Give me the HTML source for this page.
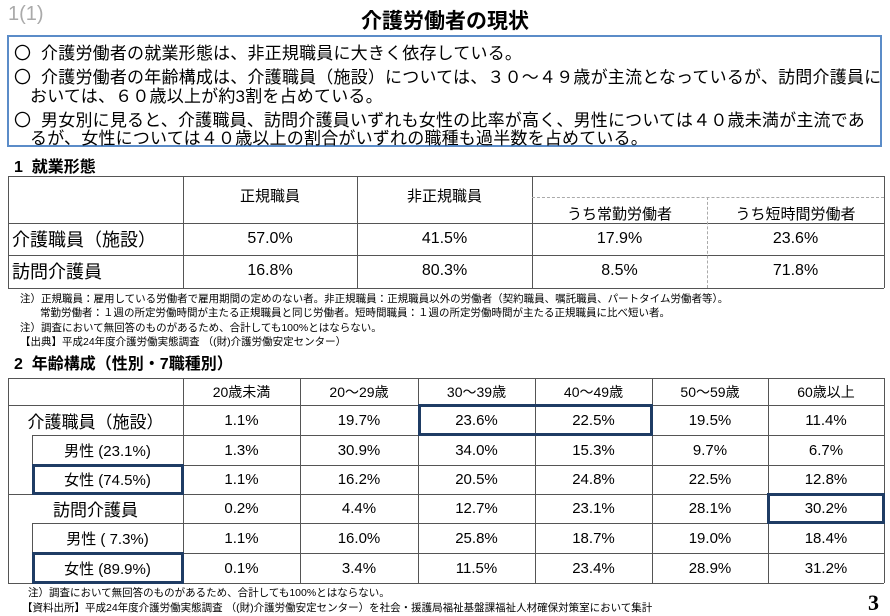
<!DOCTYPE html>
<html><head><meta charset="utf-8"><style>
body{margin:0;width:890px;height:616px;background:#fff;position:relative;overflow:hidden;font-family:"Liberation Sans","Noto Sans CJK JP",sans-serif;color:#000}
.a{position:absolute;white-space:nowrap}
.c{position:absolute;display:flex;align-items:center;justify-content:center;font-size:15px;box-sizing:border-box}
.h{position:absolute;background:#555;height:1px}
.v{position:absolute;background:#555;width:1px}
.bx{position:absolute;border:3px solid #1f3c64;box-sizing:border-box}
.note{font-size:10.5px}
.s{font-size:17px;letter-spacing:0.2px}
</style></head><body>
<div class="a" style="left:8px;top:3px;font-size:20px;color:#aaa">1(1)</div>
<div class="a" style="left:0;width:890px;text-align:center;top:5px;font-size:21px;font-weight:bold">介護労働者の現状</div>
<div style="position:absolute;left:7px;top:35px;width:875px;height:112px;border:2px solid #5b8cc8;box-sizing:border-box"></div>
<div class="a s" style="left:14px;top:39px">〇&nbsp; 介護労働者の就業形態は、非正規職員に大きく依存している。</div>
<div class="a s" style="left:14px;top:63px">〇&nbsp; 介護労働者の年齢構成は、介護職員（施設）については、３０～４９歳が主流となっているが、訪問介護員に</div>
<div class="a s" style="left:30px;top:82px">おいては、６０歳以上が約3割を占めている。</div>
<div class="a s" style="left:14px;top:106px">〇&nbsp; 男女別に見ると、介護職員、訪問介護員いずれも女性の比率が高く、男性については４０歳未満が主流であ</div>
<div class="a s" style="left:30px;top:124px">るが、女性については４０歳以上の割合がいずれの職種も過半数を占めている。</div>
<div class="a" style="left:14px;top:153px;font-size:16px;font-weight:bold">1&nbsp; 就業形態</div>
<div id="t1"></div>
<div class="a note" style="left:20px;top:291px">注）正規職員：雇用している労働者で雇用期間の定めのない者。非正規職員：正規職員以外の労働者（契約職員、嘱託職員、パートタイム労働者等）。</div>
<div class="a note" style="left:40px;top:305px">常勤労働者：１週の所定労働時間が主たる正規職員と同じ労働者。短時間職員：１週の所定労働時間が主たる正規職員に比べ短い者。</div>
<div class="a note" style="left:20px;top:320px">注）調査において無回答のものがあるため、合計しても100%とはならない。</div>
<div class="a note" style="left:20px;top:334px">【出典】平成24年度介護労働実態調査 （(財)介護労働安定センター）</div>
<div class="a" style="left:14px;top:350px;font-size:16px;font-weight:bold">2&nbsp; 年齢構成（性別・7職種別）</div>
<div id="t2"></div>
<div class="a note" style="left:28px;top:585px">注）調査において無回答のものがあるため、合計しても100%とはならない。</div>
<div class="a note" style="left:22px;top:600px">【資料出所】平成24年度介護労働実態調査 （(財)介護労働安定センター）を社会・援護局福祉基盤課福祉人材確保対策室において集計</div>
<div class="a" style="left:868px;top:590px;font-size:22px;font-weight:bold;font-family:'Liberation Serif',serif">3</div>
<script>
const body=document.body;
function el(cls,st,txt){const d=document.createElement('div');d.className=cls;d.style.cssText=st;if(txt!==undefined)d.textContent=txt;body.appendChild(d);return d;}
// Table 1
const t1Cols=[8,183,357,532,707,884];
const t1Rows=[176,223,255,288];
const t1Heads=['正規職員','非正規職員','うち常勤労働者','うち短時間労働者'];
const t1Labels=['介護職員（施設）','訪問介護員'];
const t1Vals=[['57.0%','41.5%','17.9%','23.6%'],['16.8%','80.3%','8.5%','71.8%']];
t1Rows.forEach(y=>{const l=el('h','left:8px;top:'+y+'px;width:876px');});
t1Cols.forEach((x,i)=>{const top=(i==4)?197:176;const l=el('v','left:'+x+'px;top:'+top+'px;height:'+(288-top)+'px;'+(i==4?'background:none;border-left:1px dashed #aaa':''));});
const dl=el('h','left:532px;top:197px;width:352px;background:none;border-top:1px dashed #aaa');


t1Heads.forEach((h,i)=>{const top=i<2?186:204;const c=el('c','left:'+t1Cols[i+1]+'px;top:'+top+'px;width:'+(t1Cols[i+2]-t1Cols[i+1])+'px;height:18px',h);});
t1Labels.forEach((lb,r)=>{const c=el('c','left:12px;top:'+t1Rows[r+1]+'px;height:32px;justify-content:flex-start;font-size:18px',lb);
 t1Vals[r].forEach((v,i)=>{const d=el('c','left:'+t1Cols[i+1]+'px;top:'+t1Rows[r+1]+'px;width:'+(t1Cols[i+2]-t1Cols[i+1])+'px;height:32px;font-size:16px',v);});});
// Table 2
const t2Cols=[8,183,300,418,535,652,768,884];
const t2Rows=[378,405,435,465,494,523,553,583];
const t2Heads=['20歳未満','20～29歳','30～39歳','40～49歳','50～59歳','60歳以上'];
const t2Labels=['介護職員（施設）','男性 (23.1%)','女性 (74.5%)','訪問介護員','男性 ( 7.3%)','女性 (89.9%)'];
const t2Vals=[['1.1%','19.7%','23.6%','22.5%','19.5%','11.4%'],['1.3%','30.9%','34.0%','15.3%','9.7%','6.7%'],['1.1%','16.2%','20.5%','24.8%','22.5%','12.8%'],['0.2%','4.4%','12.7%','23.1%','28.1%','30.2%'],['1.1%','16.0%','25.8%','18.7%','19.0%','18.4%'],['0.1%','3.4%','11.5%','23.4%','28.9%','31.2%']];
t2Rows.forEach((y,i)=>{const left=(i==2||i==3||i==5||i==6)?32:8;const l=el('h','left:'+left+'px;top:'+y+'px;width:'+(884-left)+'px');});
t2Cols.forEach(x=>{const l=el('v','left:'+x+'px;top:378px;height:205px');});
[[435,494],[523,583]].forEach(s=>{const l=el('v','left:32px;top:'+s[0]+'px;height:'+(s[1]-s[0])+'px');});
t2Heads.forEach((h,i)=>{const c=el('c','left:'+t2Cols[i+1]+'px;top:378px;width:'+(t2Cols[i+2]-t2Cols[i+1])+'px;height:27px;font-size:14px',h);});
t2Labels.forEach((lb,r)=>{const sub=(r%3)!=0;const c=el('c','left:'+(sub?32:8)+'px;top:'+t2Rows[r+1]+'px;width:'+(sub?151:175)+'px;height:'+(t2Rows[r+2]-t2Rows[r+1])+'px;font-size:'+(sub?15:17)+'px',lb);
 t2Vals[r].forEach((v,i)=>{const d=el('c','left:'+t2Cols[i+1]+'px;top:'+t2Rows[r+1]+'px;width:'+(t2Cols[i+2]-t2Cols[i+1])+'px;height:'+(t2Rows[r+2]-t2Rows[r+1])+'px',v);});});
[[418,404,235,32],[32,464,152,31],[767,493,118,31],[32,552,152,32]].forEach(b=>{const d=el('bx','left:'+b[0]+'px;top:'+b[1]+'px;width:'+b[2]+'px;height:'+b[3]+'px');});
</script>
</body></html>
